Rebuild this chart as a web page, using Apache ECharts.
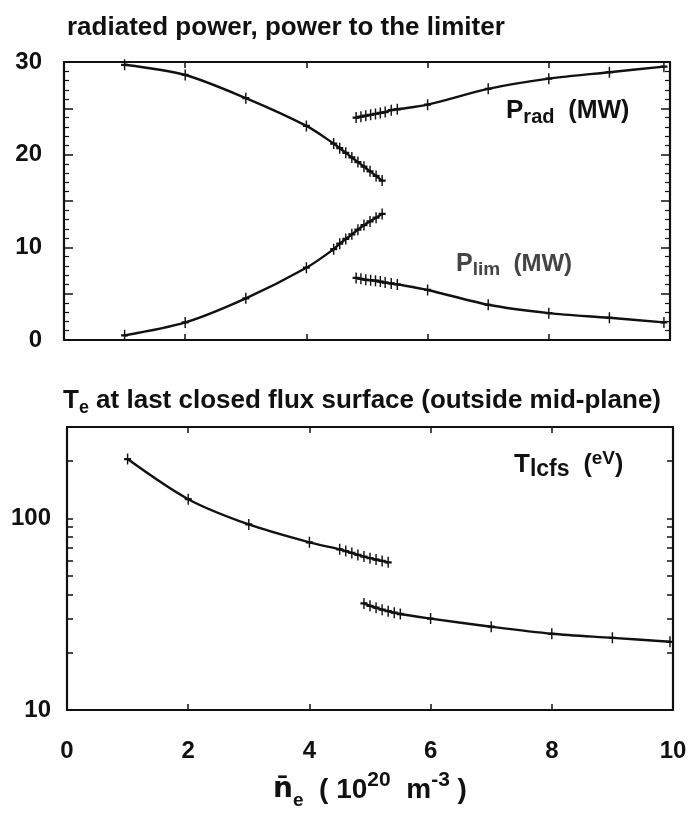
<!DOCTYPE html>
<html>
<head>
<meta charset="utf-8">
<script src="https://cdn.jsdelivr.net/npm/echarts@6/dist/echarts.min.js"></script>
<style>
  html, body { margin: 0; padding: 0; background: #fff; }
  #chart { width: 698px; height: 819px; }
</style>
</head>
<body>
<div id="chart"></div>
<script>
const neLow = [1, 2, 3, 4, 4.45, 4.55, 4.65, 4.75, 4.85, 4.95, 5.05, 5.15, 5.25]
const pradLow = [29.7, 28.6, 26.1, 23.1, 21.2, 20.7, 20.2, 19.7, 19.2, 18.7, 18.2, 17.7, 17.2]
const plimLow = [0.5, 1.9, 4.5, 7.8, 9.8, 10.4, 10.9, 11.4, 11.9, 12.4, 12.8, 13.2, 13.6]

const neHigh = [4.82, 4.9, 4.98, 5.06, 5.14, 5.22, 5.3, 5.4, 5.5, 6, 7, 8, 9, 9.9]
const pradHigh = [24.0, 24.1, 24.2, 24.3, 24.4, 24.5, 24.6, 24.8, 24.9, 25.4, 27.1, 28.2, 28.9, 29.5]
const plimHigh = [6.7, 6.6, 6.5, 6.45, 6.4, 6.3, 6.2, 6.1, 6.0, 5.4, 3.8, 2.9, 2.4, 1.9]

const neTeLow = [1, 2, 3, 4, 4.5, 4.6, 4.7, 4.8, 4.9, 5.0, 5.1, 5.2, 5.3]
const teLow = [204, 126, 93, 75, 69, 67.5, 66, 64.5, 63.2, 62, 61, 60, 59]
const neTeHigh = [4.9, 5.0, 5.1, 5.2, 5.3, 5.4, 5.5, 6, 7, 8, 9, 9.95]
const teHigh = [36, 35, 34.2, 33.4, 32.8, 32.2, 31.7, 30, 27.2, 25, 23.8, 22.7]

const xTicks = [0, 2, 4, 6, 8, 10]
const logMajor = [10, 100]
const logTicks = [10, 20, 30, 40, 50, 60, 70, 80, 90, 100, 200, 300]

const FONT = "'Liberation Sans', Arial, sans-serif"
const INK = '#111'

const chart = echarts.init(document.getElementById('chart'), null, { renderer: 'canvas' })

const pair = (xs, ys) => xs.map((x, i) => [x, ys[i]])
const plus = 'path://M0,5L10,5M5,0L5,10'

function curve(name, xs, ys, xi, yi) {
  return {
    name,
    type: 'line',
    xAxisIndex: xi,
    yAxisIndex: yi,
    data: pair(xs, ys),
    smooth: 0.3,
    symbol: plus,
    symbolSize: [7, 11],
    showSymbol: true,
    lineStyle: { color: INK, width: 2.4 },
    itemStyle: { color: 'transparent', borderColor: INK, borderWidth: 1.8 },
    z: 3,
  }
}

// box frame: every axis stays on its own edge
const boxLine = { show: true, onZero: false, lineStyle: { color: INK, width: 2.2 } }
const tickFont = { fontSize: 24, fontWeight: 'bold', fontFamily: FONT, color: INK }

function xAx(gridIndex, position, labels) {
  return {
    type: 'value',
    gridIndex,
    position,
    min: 0,
    max: 10,
    interval: 2,
    axisLine: boxLine,
    axisTick: { show: true, inside: true, length: 6, lineStyle: { color: INK, width: 1.5 } },
    axisLabel: Object.assign({ show: labels, margin: 29, customValues: xTicks }, tickFont),
    splitLine: { show: false },
  }
}

function linAx(position, labels) {
  return {
    type: 'value',
    gridIndex: 0,
    position,
    min: 0,
    max: 30,
    interval: 5,
    axisLine: boxLine,
    axisTick: { show: true, inside: true, length: 9, lineStyle: { color: INK, width: 1.5 } },
    minorTick: { show: true, splitNumber: 5, length: 5, lineStyle: { color: INK, width: 1.2 } },
    axisLabel: Object.assign({
      show: labels,
      margin: 22,
      formatter: v => (v % 10 === 0 ? String(v) : ''),
    }, tickFont),
    splitLine: { show: false },
  }
}

function logAx(position, labels) {
  return {
    type: 'log',
    logBase: 10,
    gridIndex: 1,
    position,
    min: 10,
    max: 300,
    axisLine: boxLine,
    axisTick: { show: true, inside: true, length: 6, customValues: logTicks, lineStyle: { color: INK, width: 1.5 } },
    axisLabel: Object.assign({ show: labels, margin: 16, customValues: logMajor }, tickFont),
    splitLine: { show: false },
  }
}

const option = {
  backgroundColor: '#fff',
  animation: false,
  title: [
    {
      text: 'radiated power, power to the limiter',
      left: 62,
      top: 10,
      textStyle: { fontSize: 26, fontWeight: 'bold', fontFamily: FONT, color: INK },
    },
    {
      text: '{t|T}{s|e}{t| at last closed flux surface (outside mid-plane)}',
      left: 58,
      top: 380,
      textStyle: {
        rich: {
          t: { fontSize: 26, fontWeight: 'bold', fontFamily: FONT, color: INK, lineHeight: 32 },
          s: { fontSize: 18, fontWeight: 'bold', fontFamily: FONT, color: INK, verticalAlign: 'bottom' },
        },
      },
    },
  ],
  grid: [
    { left: 64, right: 28, top: 62, height: 278, outerBoundsMode: 'none' },
    { left: 67, right: 25, top: 427, height: 283, outerBoundsMode: 'none' },
  ],
  xAxis: [
    xAx(0, 'bottom', false),
    xAx(0, 'top', false),
    Object.assign(xAx(1, 'bottom', true), {
      name: '{n|n\u0304}{s|e}{t|  ( 10}{p|20}{t|  m}{p|-3}{t| )}',
      nameLocation: 'middle',
      nameGap: 60,
      nameTextStyle: {
        rich: {
          n: { fontSize: 28, fontWeight: 'bold', fontFamily: "'DejaVu Sans', sans-serif", color: INK, lineHeight: 40 },
          s: { fontSize: 19, fontWeight: 'bold', fontFamily: FONT, color: INK, verticalAlign: 'bottom' },
          t: { fontSize: 28, fontWeight: 'bold', fontFamily: FONT, color: INK },
          p: { fontSize: 21, fontWeight: 'bold', fontFamily: FONT, color: INK, verticalAlign: 'top' },
        },
      },
    }),
    xAx(1, 'top', false),
  ],
  yAxis: [
    linAx('left', true),
    linAx('right', false),
    logAx('left', true),
    logAx('right', false),
  ],
  graphic: [
    {
      type: 'text',
      left: 506,
      top: 98,
      style: {
        text: '{p|P}{s|rad}{u|  (MW)}',
        rich: {
          p: { fontSize: 26, fontWeight: 'bold', fontFamily: FONT, fill: INK, lineHeight: 32 },
          s: { fontSize: 20, fontWeight: 'bold', fontFamily: FONT, fill: INK, verticalAlign: 'bottom' },
          u: { fontSize: 25, fontWeight: 'bold', fontFamily: FONT, fill: INK },
        },
      },
    },
    {
      type: 'text',
      left: 456,
      top: 252,
      style: {
        text: '{p|P}{s|lim}{u|  (MW)}',
        rich: {
          p: { fontSize: 25, fontWeight: 'bold', fontFamily: FONT, fill: '#444', lineHeight: 30 },
          s: { fontSize: 19, fontWeight: 'bold', fontFamily: FONT, fill: '#444', verticalAlign: 'bottom' },
          u: { fontSize: 24, fontWeight: 'bold', fontFamily: FONT, fill: '#444' },
        },
      },
    },
    {
      type: 'text',
      left: 514,
      top: 449,
      style: {
        text: '{p|T}{s|lcfs}{u|  (}{e|eV}{u|)}',
        rich: {
          p: { fontSize: 26, fontWeight: 'bold', fontFamily: FONT, fill: INK, lineHeight: 32 },
          s: { fontSize: 23, fontWeight: 'bold', fontFamily: FONT, fill: INK, verticalAlign: 'bottom' },
          u: { fontSize: 25, fontWeight: 'bold', fontFamily: FONT, fill: INK },
          e: { fontSize: 19, fontWeight: 'bold', fontFamily: FONT, fill: INK, verticalAlign: 'top' },
        },
      },
    },
  ],
  series: [
    curve('Prad low', neLow, pradLow, 0, 0),
    curve('Plim low', neLow, plimLow, 0, 0),
    curve('Prad high', neHigh, pradHigh, 0, 0),
    curve('Plim high', neHigh, plimHigh, 0, 0),
    curve('Tlcfs low', neTeLow, teLow, 2, 2),
    curve('Tlcfs high', neTeHigh, teHigh, 2, 2),
  ],
}

chart.setOption(option)
</script>
</body>
</html>
